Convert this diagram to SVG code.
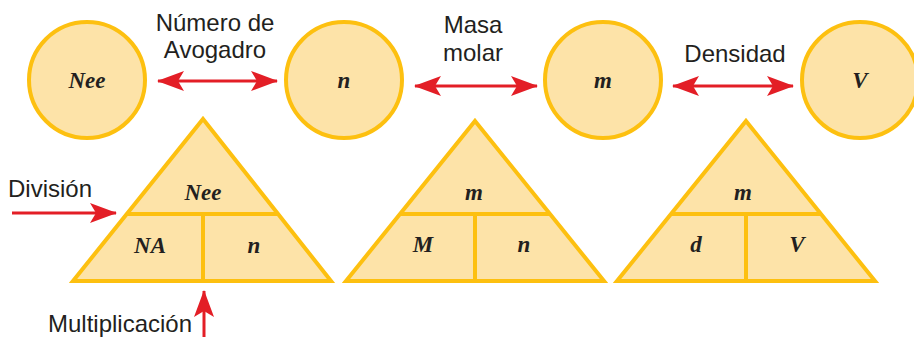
<svg xmlns="http://www.w3.org/2000/svg" width="914" height="337" viewBox="0 0 914 337">
<defs>
<marker id="ah" viewBox="0 0 27 20" refX="26" refY="10" markerWidth="27" markerHeight="20" markerUnits="userSpaceOnUse" orient="auto-start-reverse">
<path d="M0,0 L27,10 L0,20 L6,10 Z" fill="#E31E26"/>
</marker>
</defs>
<style>
.shape{fill:#FDE3A8;stroke:#FDC010;stroke-width:4;stroke-linejoin:miter}
.div{fill:none;stroke:#FDC010;stroke-width:4}
.var{font-family:"Liberation Serif","Times New Roman",serif;font-style:italic;font-weight:bold;font-size:23px;fill:#231F20;text-anchor:middle}
.lbl{font-family:"Liberation Sans",Arial,sans-serif;font-size:24px;fill:#231F20}
.arr{stroke:#E31E26;stroke-width:3;fill:none}
</style>
<rect width="914" height="337" fill="#FFFFFF"/>
<g id="circle-nee"><circle class="shape" cx="87" cy="80" r="58"/><text class="var" x="87" y="88">Nee</text></g>
<g id="circle-n"><circle class="shape" cx="344" cy="80" r="58"/><text class="var" x="344" y="88">n</text></g>
<g id="circle-m"><circle class="shape" cx="603" cy="80" r="58"/><text class="var" x="603" y="88">m</text></g>
<g id="circle-v"><circle class="shape" cx="860" cy="80" r="58"/><text class="var" x="860" y="88">V</text></g>
<g id="tri-nee">
<path class="shape" d="M203,119 L331,281 L73,281 Z"/>
<path class="div" d="M127,214 L279,214 M203,214 L203,281"/>
<text class="var" x="203" y="200">Nee</text>
<text class="var" x="150" y="253">NA</text>
<text class="var" x="254" y="253">n</text>
</g>
<g id="tri-m">
<path class="shape" d="M475,121 L604,281 L346,281 Z"/>
<path class="div" d="M399,214 L551,214 M475,214 L475,281"/>
<text class="var" x="474" y="200">m</text>
<text class="var" x="423" y="252">M</text>
<text class="var" x="524" y="252">n</text>
</g>
<g id="tri-d">
<path class="shape" d="M746,121 L875,281 L617,281 Z"/>
<path class="div" d="M670,214 L822,214 M746,214 L746,281"/>
<text class="var" x="743" y="200">m</text>
<text class="var" x="696" y="252">d</text>
<text class="var" x="797" y="252">V</text>
</g>
<g id="labels">
<text class="lbl" x="215" y="31" text-anchor="middle">Número de</text>
<text class="lbl" x="215" y="58" text-anchor="middle">Avogadro</text>
<text class="lbl" x="473" y="33" text-anchor="middle">Masa</text>
<text class="lbl" x="473" y="61" text-anchor="middle">molar</text>
<text class="lbl" x="735" y="62" text-anchor="middle">Densidad</text>
<text class="lbl" x="8" y="197">División</text>
<text class="lbl" x="48" y="332">Multiplicación</text>
</g>
<g id="connectors">
<line class="arr" x1="158" y1="81" x2="277" y2="81" marker-start="url(#ah)" marker-end="url(#ah)"/>
<line class="arr" x1="415" y1="86" x2="537" y2="86" marker-start="url(#ah)" marker-end="url(#ah)"/>
<line class="arr" x1="673" y1="86" x2="793" y2="86" marker-start="url(#ah)" marker-end="url(#ah)"/>
<line class="arr" x1="12" y1="213" x2="116" y2="213" marker-end="url(#ah)"/>
<line class="arr" x1="204" y1="337" x2="204" y2="291" marker-end="url(#ah)"/>
</g>
</svg>
